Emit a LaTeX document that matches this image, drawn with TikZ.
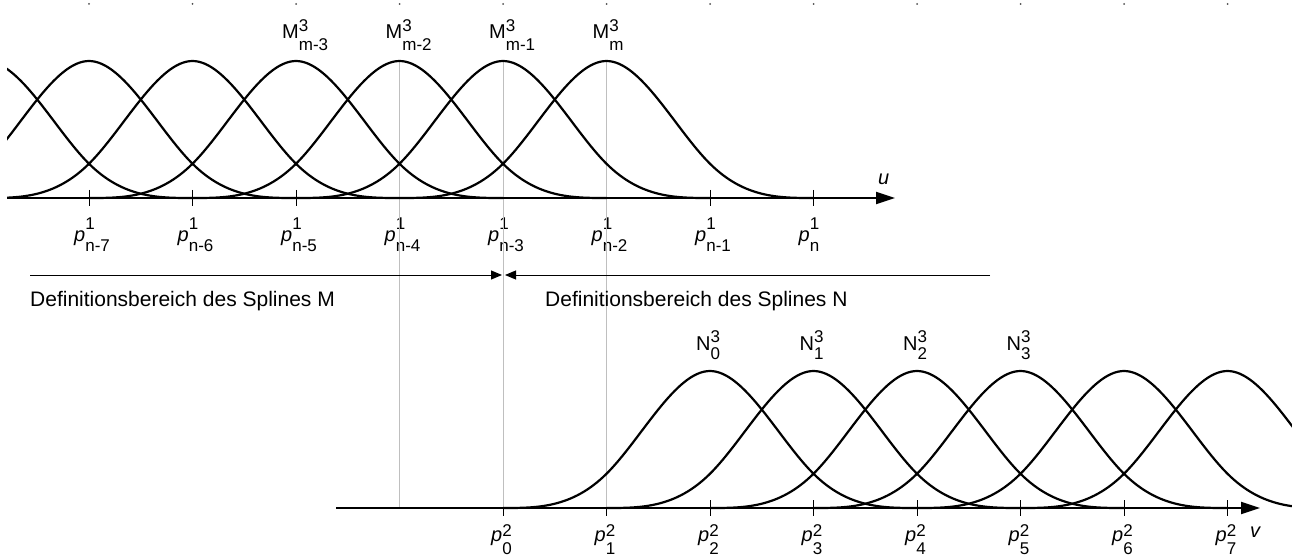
\documentclass[tikz,border=0pt]{standalone}
\usepackage{fontspec}
\setmainfont{Liberation Sans}
\usetikzlibrary{arrows.meta}

\newcommand{\idxfont}{\fontsize{17}{17}\selectfont}
% base letter with stacked upper and lower index
\newcommand{\lbl}[5]{#1\rlap{\raisebox{#4}{\idxfont #2}}\raisebox{#5}{\idxfont #3}}

\tikzset{
  bspl/.pic={
    \draw[curve] (-207,0) .. controls (-172.5,0) and (-138,0) .. (-103.5,34.25)
      .. controls (-69,68.5) and (-34.5,137) .. (0,137)
      .. controls (34.5,137) and (69,68.5) .. (103.5,34.25)
      .. controls (138,0) and (172.5,0) .. (207,0);
  }
}

\begin{document}
\begin{tikzpicture}[x=1pt,y=1pt,
  every node/.style={font=\fontsize{20}{20}\selectfont,inner sep=0pt},
  curve/.style={line width=2.2pt,line join=round},
  axisline/.style={line width=2.2pt,-{Triangle[length=19pt,width=12pt]}},
  knot/.style={line width=1pt},
  guide/.style={line width=1pt,black!25},
  dimline/.style={line width=1pt,-{Triangle[length=11pt,width=9pt]}},
]
\useasboundingbox (0,0) rectangle (1292,555);

%% dots along the top edge
\foreach \k in {0,...,11}
  \fill[black!70] (89+103.5*\k,551) circle (1pt);

%% knots of both axes
\foreach \k in {0,...,7}{
  \coordinate (p1\k) at (89+103.5*\k,357);
  \coordinate (p2\k) at (503+103.5*\k,47);
  \draw[knot] ([yshift=8pt]p1\k) -- ([yshift=-8pt]p1\k);
  \draw[knot] ([yshift=8pt]p2\k) -- ([yshift=-8pt]p2\k);
}

%% knot labels, spline u
\foreach \k/\s in {0/n-7,1/n-6,2/n-5,3/n-4,4/n-3,5/n-2,6/n-1,7/n}
  \node[anchor=base west] (l1\k) at ([xshift=-15pt,yshift=-44pt]p1\k)
    {\lbl{\textit{p}}{1}{\s}{12pt}{-10pt}};

%% knot labels, spline v
\foreach \k in {0,...,7}
  \node[anchor=base west] (l2\k) at ([xshift=-12pt,yshift=-33pt]p2\k)
    {\lbl{\textit{p}}{2}{\k}{5pt}{-13pt}};

%% peaks
\foreach \k in {2,...,5}
  \coordinate (mk\k) at (89+103.5*\k,494);
\foreach \k in {0,...,3}
  \coordinate (nk\k) at (710+103.5*\k,184);

%% guide lines down to the v axis
\draw[guide] (mk3) -- (mk3 |- p20);
\draw[guide] (mk4) -- (p20);
\draw[guide] (mk5) -- (p21);

%% basis functions of M
\begin{scope}
  \clip (7,0) rectangle (1292,555);
  \foreach \k in {-1,...,5}
    \pic at (89+103.5*\k,357) {bspl};
\end{scope}

%% basis functions of N
\foreach \k in {6,...,11}
  \pic at (89+103.5*\k,47) {bspl};

%% axes
\coordinate (ua) at (7,357);
\coordinate (ub) at (895,357);
\coordinate (va) at (336,47);
\coordinate (vb) at (1260,47);
\draw[axisline] (ua) -- (ub);
\draw[axisline] (va) -- (vb);
\node[anchor=base west] (ulab) at (878,370) {\textit{u}};
\node[anchor=base west] (vlab) at (1250,18) {\textit{v}};

%% M and N labels
\foreach \k/\s in {2/m-3,3/m-2,4/m-1,5/m}
  \node[anchor=base west] (lm\k) at ([xshift=-14pt,yshift=22pt]mk\k)
    {\lbl{M}{3}{\s}{7pt}{-12pt}};
\foreach \k in {0,...,3}
  \node[anchor=base west] (ln\k) at ([xshift=-14pt,yshift=21pt]nk\k)
    {\lbl{N}{3}{\k}{8pt}{-9pt}};

%% domains
\coordinate (dM) at (30,280);
\coordinate (dmid) at (503,280);
\coordinate (dN) at (990,280);
\draw[dimline] (dM) -- ([xshift=-1pt]dmid);
\draw[dimline] (dN) -- ([xshift=2pt]dmid);
\node[anchor=base west,font=\fontsize{21}{21}\selectfont] (tM) at (30,249)
  {Definitionsbereich des Splines M};
\node[anchor=base west,font=\fontsize{21}{21}\selectfont] (tN) at (545,249)
  {Definitionsbereich des Splines N};

\end{tikzpicture}
\end{document}
